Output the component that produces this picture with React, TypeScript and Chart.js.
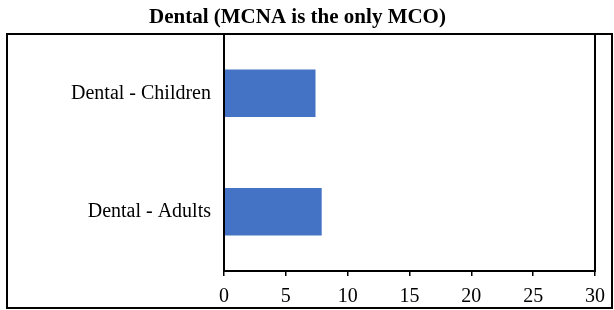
import React, { useEffect, useRef } from "react";
import { Chart, registerables } from "chart.js";

Chart.register(...registerables);

const categories = ["Dental - Children", "Dental - Adults"];
const values = [7.4, 7.9];
const xMin = 0;
const xMax = 30;
const xStep = 5;
const titleText = "Dental (MCNA is the only MCO)";

const FONT = "'Liberation Serif', 'Times New Roman', serif";

const framePlugin = {
  id: "frame",
  afterDraw(chart: any) {
    const { ctx, chartArea } = chart;
    ctx.save();
    ctx.strokeStyle = "#000";
    ctx.lineWidth = 2;
    // outer frame
    ctx.strokeRect(7, chartArea.top, 605, 308 - chartArea.top);
    // plot area frame
    ctx.strokeRect(
      chartArea.left,
      chartArea.top,
      chartArea.right - chartArea.left,
      chartArea.bottom - chartArea.top
    );
    ctx.restore();
  },
};

export default function App() {
  const ref = useRef<HTMLCanvasElement | null>(null);
  useEffect(() => {
    if (!ref.current) return;
    const chart = new Chart(ref.current, {
      type: "bar",
      data: {
        labels: categories,
        datasets: [
          {
            data: values,
            backgroundColor: "#4472C4",
            borderWidth: 0,
            categoryPercentage: 0.4,
            barPercentage: 1.0,
          },
        ],
      },
      options: {
        indexAxis: "y",
        responsive: false,
        animation: false,
        layout: { padding: { left: 0, right: 19, top: 0, bottom: 0 } },
        plugins: {
          legend: { display: false },
          tooltip: { enabled: false },
          title: {
            display: true,
            text: titleText,
            color: "#000",
            font: { family: FONT, size: 21, weight: "bold", lineHeight: 1.0 },
            padding: { top: 7, bottom: 6 },
          },
        },
        scales: {
          x: {
            min: xMin,
            max: xMax,
            ticks: {
              stepSize: xStep,
              color: "#000",
              font: { family: FONT, size: 20 },
              padding: 9,
            },
            grid: {
              drawOnChartArea: false,
              drawTicks: true,
              tickLength: 5,
              color: "#000",
              lineWidth: 1.5,
            },
            border: { display: true, color: "#000", width: 2 },
            afterFit(scale: any) {
              scale.height = 39;
            },
          },
          y: {
            ticks: {
              color: "#000",
              font: { family: FONT, size: 20 },
              padding: 13,
            },
            grid: { display: false, drawTicks: false },
            border: { display: true, color: "#000", width: 2 },
            afterFit(scale: any) {
              scale.width = 224;
            },
          },
        },
      },
      plugins: [framePlugin],
    });
    return () => chart.destroy();
  }, []);
  return (
    <div style={{ position: "fixed", left: 0, top: 0, width: 614, height: 310, background: "#fff" }}>
      <canvas ref={ref} width={614} height={310} />
    </div>
  );
}
